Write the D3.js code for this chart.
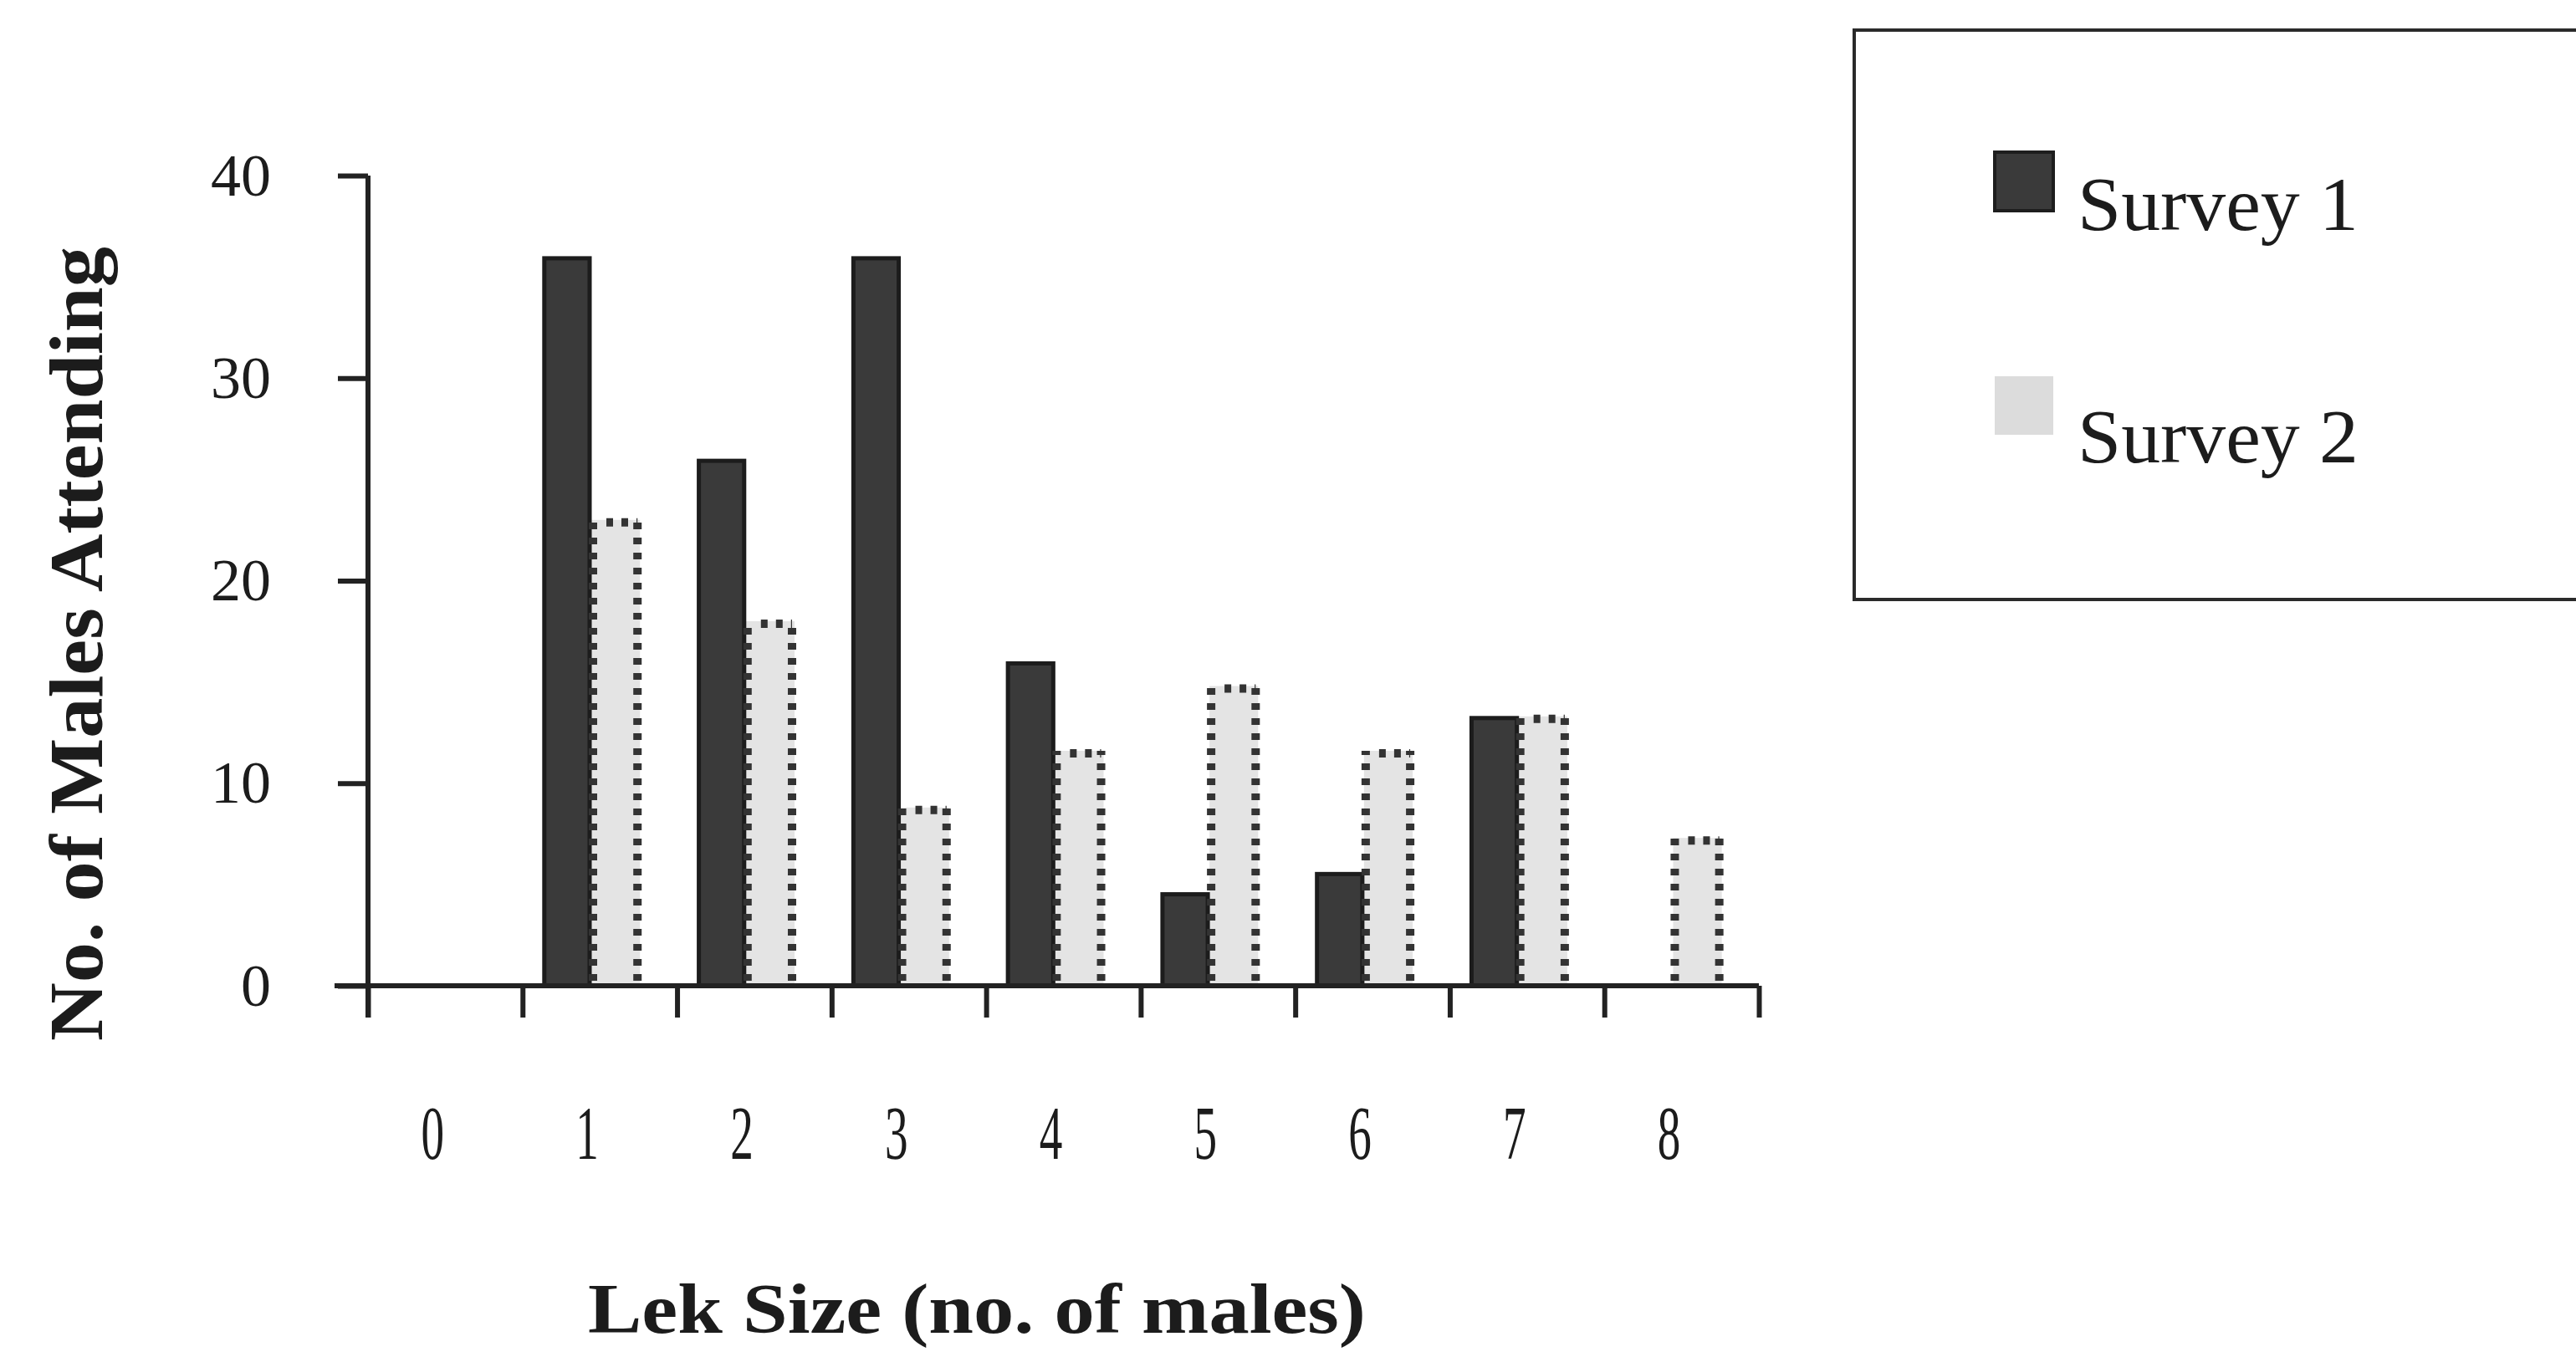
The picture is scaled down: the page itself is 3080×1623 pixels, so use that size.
<!DOCTYPE html>
<html>
<head>
<meta charset="utf-8">
<script src="https://cdn.jsdelivr.net/npm/d3@7"></script>
<style>
  html, body { margin: 0; padding: 0; background: #ffffff; }
  svg { display: block; }
  text { font-family: "Liberation Serif", "DejaVu Serif", serif; fill: #1c1c1c; }
</style>
</head>
<body>
<svg id="chart" width="3080" height="1623"></svg>
<script>
// Lek sizes (number of males) along the horizontal axis
const categories = ["0", "1", "2", "3", "4", "5", "6", "7", "8"];
// Males attending, per survey
const survey1 = [0, 36, 26, 36, 16, 4.6, 5.6, 13.3, 0];
const survey2 = [0, 23, 18, 8.8, 11.6, 14.8, 11.6, 13.3, 7.3];
const seriesNames = ["Survey 1", "Survey 2"];
const yTicks = [0, 10, 20, 30, 40];

const svg = d3.select("#chart");
const axisColor = "#222222";
const darkFill = "#3a3a3a";
const lightFill = "#e4e4e4";

const x = d3.scaleBand().domain(categories).range([440, 2103]).padding(0);
const y = d3.scaleLinear().domain([0, 40]).range([1179, 210]);
const step = x.step();
const barW = step * 0.315;
const groupOffset = step * 0.13;

// Light bars (Survey 2)
const light = svg.append("g").attr("class", "survey2");
survey2.forEach((v, i) => {
  if (!v) return;
  const x0 = x(categories[i]) + groupOffset + barW;
  light.append("rect")
    .attr("x", x0).attr("y", y(v))
    .attr("width", barW).attr("height", y(0) - y(v))
    .attr("fill", lightFill);
});

// Dark bars (Survey 1)
const dark = svg.append("g").attr("class", "survey1");
survey1.forEach((v, i) => {
  if (!v) return;
  const x0 = x(categories[i]) + groupOffset;
  dark.append("rect")
    .attr("x", x0 + 2).attr("y", y(v) + 2)
    .attr("width", barW - 4).attr("height", y(0) - y(v) - 2)
    .attr("fill", darkFill)
    .attr("stroke", "#1c1c1c").attr("stroke-width", 5);
});

// Dotted outlines of the light bars, drawn over the dark bars' edges
const dots = svg.append("g").attr("class", "survey2-edges")
  .attr("stroke", "#333333").attr("stroke-width", 10)
  .attr("stroke-dasharray", "8,10").attr("fill", "none");
survey2.forEach((v, i) => {
  if (!v) return;
  const x0 = x(categories[i]) + groupOffset + barW;
  const x1 = x0 + barW;
  dots.append("line").attr("x1", x0 + 2).attr("x2", x0 + 2)
    .attr("y1", y(0) - 6).attr("y2", y(v));
  dots.append("line").attr("x1", x1 - 3).attr("x2", x1 - 3)
    .attr("y1", y(0) - 6).attr("y2", y(v));
  dots.append("line").attr("x1", x0 + 18).attr("x2", x1 - 3)
    .attr("y1", y(v) + 3).attr("y2", y(v) + 3);
});

// Y axis
const yAxis = svg.append("g")
  .attr("transform", "translate(440,0)")
  .call(d3.axisLeft(y).tickValues(yTicks).tickSize(36).tickPadding(80).tickFormat(d3.format("d")));
yAxis.select(".domain").attr("stroke", axisColor).attr("stroke-width", 6)
  .attr("d", `M0,${y(40)}V${y(0) + 38}`);
yAxis.selectAll(".tick line").attr("stroke", axisColor).attr("stroke-width", 6);
yAxis.selectAll(".tick text")
  .style("font-family", "'Liberation Serif', serif")
  .style("font-size", "72px").attr("fill", "#1c1c1c");

// X axis: boundary ticks between lek sizes
const xEdge = d3.scaleLinear().domain([0, categories.length]).range(x.range());
const xAxis = svg.append("g")
  .attr("transform", `translate(0,${y(0)})`)
  .call(d3.axisBottom(xEdge).ticks(categories.length).tickSize(38).tickFormat(""));
xAxis.select(".domain").attr("stroke", axisColor).attr("stroke-width", 6)
  .attr("d", `M400,0H${x.range()[1]}`);
xAxis.selectAll(".tick line").attr("stroke", axisColor).attr("stroke-width", 6);

// Category labels (tall, narrow digits)
svg.append("g").selectAll("text")
  .data(categories).join("text")
  .attr("transform", d => `translate(${x(d) + step / 2 - 15},1386) scale(0.6,1)`)
  .attr("text-anchor", "middle")
  .style("font-size", "92px")
  .text(d => d);

// Axis titles
svg.append("text")
  .attr("transform", "translate(122,770) rotate(-90)")
  .attr("text-anchor", "middle")
  .attr("textLength", 950).attr("lengthAdjust", "spacingAndGlyphs")
  .style("font-size", "92px").style("font-weight", "bold")
  .text("No. of Males Attending");

svg.append("text")
  .attr("x", 1168).attr("y", 1594)
  .attr("text-anchor", "middle")
  .attr("textLength", 930).attr("lengthAdjust", "spacingAndGlyphs")
  .style("font-size", "84px").style("font-weight", "bold")
  .text("Lek Size (no. of males)");

// Legend
const legend = svg.append("g");
legend.append("rect")
  .attr("x", 2217).attr("y", 36).attr("width", 900).attr("height", 681)
  .attr("fill", "none").attr("stroke", "#2a2a2a").attr("stroke-width", 4);
const legendRows = [
  { name: seriesNames[0], fill: darkFill, stroke: "#1e1e1e", sy: 182, ty: 275 },
  { name: seriesNames[1], fill: "#dcdcdc", stroke: "none", sy: 450, ty: 553 }
];
legendRows.forEach(r => {
  legend.append("rect")
    .attr("x", 2385).attr("y", r.sy).attr("width", 70).attr("height", 70)
    .attr("fill", r.fill).attr("stroke", r.stroke).attr("stroke-width", 4);
  legend.append("text")
    .attr("x", 2484).attr("y", r.ty)
    .attr("textLength", 336).attr("lengthAdjust", "spacingAndGlyphs")
    .style("font-size", "92px")
    .text(r.name);
});
</script>
</body>
</html>
